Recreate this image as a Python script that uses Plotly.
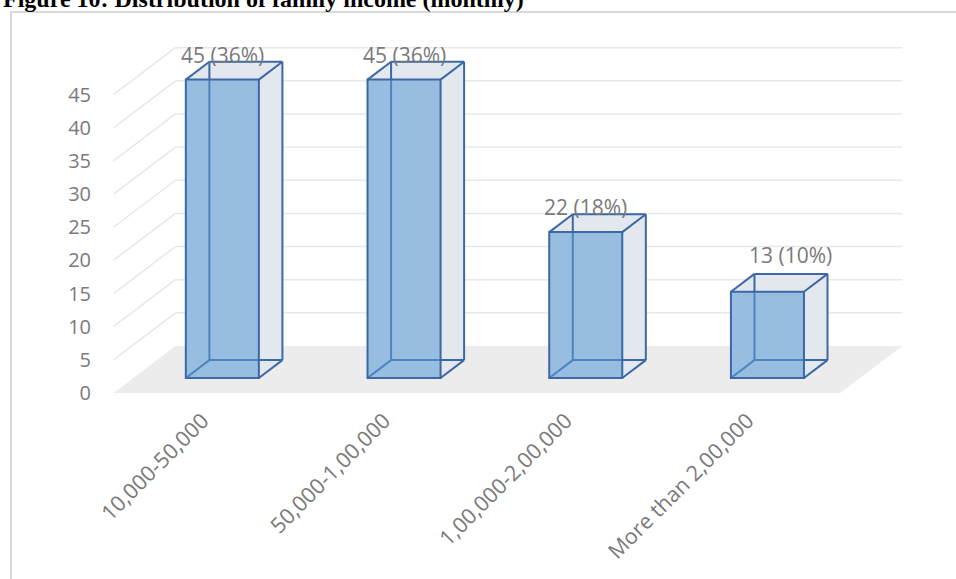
import plotly.graph_objects as go

# ---------------- data ----------------
CATEGORIES = ["10,000-50,000", "50,000-1,00,000", "1,00,000-2,00,000", "More than 2,00,000"]
COUNTS = [45, 45, 22, 13]
PERCENTS = [36, 36, 18, 10]
Y_TICKS = [0, 5, 10, 15, 20, 25, 30, 35, 40, 45]
TITLE = "Figure 10: Distribution of family income (monthly)"

# ---------------- geometry / style ----------------
W, H = 956, 579
X0_PX, CAT_PX = 202.5, 181.7      # pixel of first category on front plane, px per category
Y0_PX, UNIT_PX = 393.0, 6.63      # pixel of value 0 on front plane, px per value unit
XR = [(0 - X0_PX) / CAT_PX, (W - X0_PX) / CAT_PX]
YR = [(Y0_PX - H) / UNIT_PX, Y0_PX / UNIT_PX]

DX = 62 / CAT_PX                  # depth vector (front plane -> back wall) in data units
DY = 47 / UNIT_PX
F1, F2 = 0.32, 0.70               # bar front / back depth fraction
HALF_W = 0.201
FLOOR_L, FLOOR_R = -0.49, 3.51

EDGE = "#3c68a6"
FACE_LIGHT = "#e3e8ef"
GRID = "#e8e8e8"
FLOOR = "#ececec"
TXT = "#7a7a7a"
FONT = "Open Sans"

fig = go.Figure()


def poly(pts, **kw):
    path = "M " + " L ".join(f"{x},{y}" for x, y in pts) + " Z"
    return dict(type="path", path=path, xref="x", yref="y", **kw)


def seg(p, q, **kw):
    return dict(type="line", x0=p[0], y0=p[1], x1=q[0], y1=q[1], xref="x", yref="y", **kw)


shapes = []
# frame
shapes.append(dict(type="path", xref="paper", yref="paper",
                   path=f"M {11/W},-0.05 L {11/W},{1-12/H} L 1.05,{1-12/H}",
                   line=dict(color="#d9d9d9", width=2), layer="below"))
# floor
shapes.append(poly([(FLOOR_L, 0), (FLOOR_R, 0), (FLOOR_R + DX, DY), (FLOOR_L + DX, DY)],
                   fillcolor=FLOOR, line=dict(width=0), layer="below"))
# walls gridlines
for v in Y_TICKS[1:]:
    shapes.append(seg((FLOOR_L + DX, v + DY), (FLOOR_R + DX, v + DY),
                      line=dict(color=GRID, width=1.5), layer="below"))
    shapes.append(seg((FLOOR_L, v), (FLOOR_L + DX, v + DY),
                      line=dict(color=GRID, width=1.5), layer="below"))

above = []
for i, v in enumerate(COUNTS):
    xl, xr_ = i - HALF_W, i + HALF_W
    fbl = (xl + F1 * DX, F1 * DY)
    fbr = (xr_ + F1 * DX, F1 * DY)
    ftl = (xl + F1 * DX, v + F1 * DY)
    ftr = (xr_ + F1 * DX, v + F1 * DY)
    bbl = (xl + F2 * DX, F2 * DY)
    bbr = (xr_ + F2 * DX, F2 * DY)
    btl = (xl + F2 * DX, v + F2 * DY)
    btr = (xr_ + F2 * DX, v + F2 * DY)
    shapes.append(poly([fbl, ftl, btl, btr, bbr, fbr], fillcolor=FACE_LIGHT,
                       line=dict(width=0), layer="below"))
    for p, q in [(bbl, btl), (bbl, bbr), (fbl, bbl)]:
        shapes.append(seg(p, q, line=dict(color=EDGE, width=2), layer="below"))
    for p, q in [(ftl, btl), (btl, btr), (btr, ftr), (btr, bbr), (bbr, fbr)]:
        above.append(seg(p, q, line=dict(color=EDGE, width=2), layer="above"))

fig.add_trace(go.Bar(
    x=[i + F1 * DX for i in range(len(COUNTS))],
    y=COUNTS,
    base=F1 * DY,
    width=2 * HALF_W,
    marker=dict(color="rgba(91,155,213,0.56)", line=dict(color=EDGE, width=2)),
    hoverinfo="skip",
    showlegend=False,
))

LABEL_NUDGE = [(0, 7), (0, 7), (0, 7), (23, 19)]
annotations = []
for i, (v, p) in enumerate(zip(COUNTS, PERCENTS)):
    nx, ny = LABEL_NUDGE[i]
    annotations.append(dict(x=i + F1 * DX, y=v + F2 * DY, xref="x", yref="y",
                            text=f"{v} ({p}%)", showarrow=False,
                            xanchor="center", yanchor="middle", xshift=nx, yshift=ny,
                            font=dict(family=FONT, size=21, color=TXT)))
annotations.append(dict(x=0, y=1, xref="paper", yref="paper", text=f"<b>{TITLE}</b>",
                        showarrow=False, xanchor="left", yanchor="top", xshift=1, yshift=16,
                        font=dict(family="Liberation Serif", size=24, color="#000000")))

fig.update_layout(
    width=W, height=H,
    margin=dict(l=0, r=0, t=0, b=0),
    paper_bgcolor="white", plot_bgcolor="white",
    shapes=shapes + above,
    annotations=annotations,
    xaxis=dict(range=XR, domain=[0, 1], anchor="free", position=1 - 403 / H,
               tickvals=list(range(len(CATEGORIES))), ticktext=CATEGORIES,
               tickangle=-45, showgrid=False, zeroline=False, showline=False, ticks="",
               tickfont=dict(family=FONT, size=21.5, color=TXT)),
    yaxis=dict(range=YR, domain=[0, 1], anchor="free", position=91 / W,
               tickvals=Y_TICKS, showgrid=False, zeroline=False, showline=False, ticks="",
               tickfont=dict(family=FONT, size=20, color=TXT)),
)

fig.write_html("out.html")
